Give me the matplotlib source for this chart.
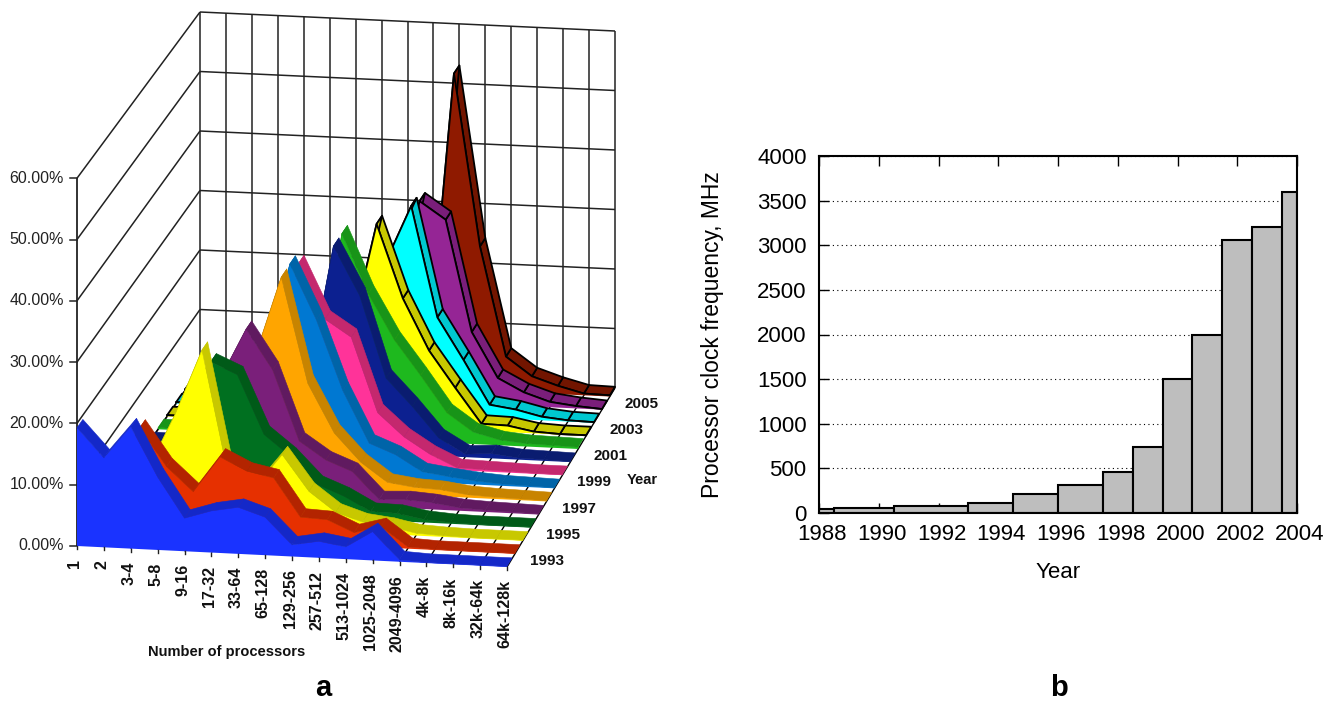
import matplotlib
matplotlib.use("Agg")
import matplotlib.pyplot as plt
import matplotlib.transforms as mtrans

plt.rcParams['font.family'] = ['Liberation Sans', 'DejaVu Sans']

# Panel a: share of systems (%) per processor class, one list per year
CATEGORIES = ["1", "2", "3-4", "5-8", "9-16", "17-32", "33-64", "65-128", "129-256",
              "257-512", "513-1024", "1025-2048", "2049-4096", "4k-8k", "8k-16k",
              "32k-64k", "64k-128k"]
YEARS = ["1993", "1994", "1995", "1996", "1997", "1998", "1999", "2000", "2001",
         "2002", "2003", "2004", "2005", "2006"]
Y1993 = [19.3, 14.6, 19.9, 11.9, 5.4, 6.8, 7.6, 6.2, 1.9, 2.7, 2.0, 4.7, 0.3, 0.1, 0.1, 0.1, 0.1]
Y1994 = [12.0, 10.0, 17.6, 11.5, 7.6, 13.5, 11.4, 10.5, 4.3, 4.1, 2.2, 3.4, 0.3, 0.1, 0.1, 0.1, 0.1]
Y1995 = [3.0, 5.0, 9.0, 18.0, 28.7, 8.0, 6.8, 12.2, 6.4, 3.2, 1.8, 1.3, 0.4, 0.2, 0.1, 0.1, 0.1]
Y1996 = [1.0, 3.0, 6.0, 12.0, 24.7, 22.8, 13.2, 9.8, 5.4, 3.7, 1.4, 1.3, 0.5, 0.2, 0.1, 0.1, 0.1]
Y1997 = [0.5, 1.0, 3.0, 8.0, 19.6, 28.2, 21.7, 10.2, 7.3, 5.6, 1.2, 1.4, 1.1, 0.5, 0.3, 0.2, 0.1]
Y1998 = [0.3, 0.5, 2.0, 6.0, 15.0, 21.5, 34.9, 17.6, 9.6, 5.0, 1.9, 1.3, 1.1, 0.5, 0.3, 0.2, 0.1]
Y1999 = [0.2, 0.3, 1.0, 4.0, 10.0, 18.0, 35.0, 26.0, 14.5, 6.0, 4.3, 1.7, 1.1, 0.6, 0.3, 0.2, 0.1]
Y2000 = [0.2, 0.3, 0.5, 2.0, 6.0, 14.0, 33.0, 24.0, 21.2, 8.9, 5.1, 2.4, 0.4, 0.3, 0.2, 0.1, 0.1]
Y2001 = [0.3, 0.2, 0.3, 1.0, 3.0, 6.0, 10.7, 34.0, 26.0, 12.5, 8.0, 3.0, 0.5, 0.8, 0.3, 0.2, 0.1]
Y2002 = [0.3, 0.2, 0.3, 0.5, 1.0, 3.0, 8.0, 34.0, 24.2, 16.7, 11.0, 5.0, 2.0, 0.9, 0.5, 0.4, 0.3]
Y2003 = [0.2, 0.2, 0.2, 0.3, 0.5, 1.0, 3.0, 15.0, 33.7, 21.5, 13.0, 7.0, 1.2, 1.1, 0.3, 0.1, 0.1]
Y2004 = [0.2, 0.2, 0.2, 0.2, 0.3, 0.5, 2.0, 10.0, 25.0, 34.8, 16.4, 9.5, 2.2, 1.6, 0.6, 0.2, 0.1]
Y2005 = [0.2, 0.2, 0.2, 0.2, 0.2, 0.3, 1.0, 4.0, 15.0, 33.5, 30.6, 12.0, 4.5, 2.3, 0.9, 0.4, 0.1]
Y2006 = [0.1, 0.1, 0.1, 0.1, 0.2, 0.2, 0.5, 1.0, 2.0, 5.0, 53.0, 24.2, 5.9, 2.8, 1.4, 0.3, 0.2]
SERIES = [Y1993, Y1994, Y1995, Y1996, Y1997, Y1998, Y1999, Y2000, Y2001, Y2002, Y2003, Y2004,
          Y2005, Y2006]
FACE_COLORS = ["#1a33ff", "#e63000", "#ffff00", "#007020", "#7a1f7a", "#ffa500", "#0078d2",
               "#ff3399", "#0c2090", "#1eb91e", "#ffff00", "#00ffff", "#952595", "#8f1a00"]
BAND_COLORS = ["#1428c8", "#b32400", "#c8c800", "#005a18", "#601a60", "#c88400", "#0064a8",
               "#c4286e", "#0a1c70", "#189418", "#c8c800", "#00c8d0", "#7a1e7a", "#721500"]
Z_TICKS = [0, 10, 20, 30, 40, 50, 60]

# Panel b: clock frequency as a step histogram
BAR_EDGES = [1988, 1988.5, 1990.5, 1993, 1994.5, 1996, 1997.5, 1998.5, 1999.5, 2000.5, 2001.5,
             2002.5, 2003.5, 2004]
BAR_VALUES = [40, 55, 75, 110, 210, 310, 455, 740, 1500, 2000, 3060, 3200, 3600]

# Floor corners of the 3D box, in picture coordinates
FRONT_LEFT, FRONT_RIGHT = (77, 546), (507, 567)
BACK_LEFT, BACK_RIGHT = (200, 369), (615, 388)
N_CAT = len(CATEGORIES) - 1
BAND_DEPTH = 0.65
DEPTH = len(YEARS) - 1 + BAND_DEPTH


def project(i, j, z):
    # category index, year index, percent -> picture x, y
    u = i / N_CAT
    v = j / DEPTH
    xf = FRONT_LEFT[0] + u * (FRONT_RIGHT[0] - FRONT_LEFT[0])
    yf = FRONT_LEFT[1] + u * (FRONT_RIGHT[1] - FRONT_LEFT[1])
    xb = BACK_LEFT[0] + u * (BACK_RIGHT[0] - BACK_LEFT[0])
    yb = BACK_LEFT[1] + u * (BACK_RIGHT[1] - BACK_LEFT[1])
    scale = 6.13 + v * (5.95 - 6.13)
    return xf + v * (xb - xf), yf + v * (yb - yf) - z * scale


def line3d(ax, p, q, color="#222222", lw=1.1, zorder=1):
    a, b = project(*p), project(*q)
    ax.plot([a[0], b[0]], [a[1], b[1]], color=color, lw=lw, zorder=zorder, solid_capstyle="butt")


fig = plt.figure(figsize=(13.36, 7.03), dpi=100)

# ---- panel a ----
ax = fig.add_axes([0, 0, 1, 1])
ax.set_xlim(0, 1336)
ax.set_ylim(703, 0)
ax.axis("off")

for z in Z_TICKS:
    line3d(ax, (0, 0, z), (0, DEPTH, z))
    line3d(ax, (0, DEPTH, z), (N_CAT, DEPTH, z))
    x, y = project(0, 0, z)
    ax.plot([x - 7, x], [y, y], color="#222222", lw=1.1)
    ax.text(x - 13, y, "%.2f%%" % z, ha="right", va="center", fontsize=11.5, color="#222222")
line3d(ax, (0, 0, 0), (0, 0, 60), lw=1.3)
for i in range(N_CAT + 1):
    line3d(ax, (i, DEPTH, 0), (i, DEPTH, 60))
    line3d(ax, (i, 0, 0), (i, DEPTH, 0), color="black", lw=1.0)

z = 2
for j in range(len(YEARS) - 1, -1, -1):
    values = SERIES[j]
    outlined = j >= 10
    edge = "black" if outlined else BAND_COLORS[j]
    lw = 1.3 if outlined else 0.4
    for i in range(N_CAT - 1, -1, -1):
        corners = [project(i, j, values[i]), project(i + 1, j, values[i + 1]),
                   project(i + 1, j + BAND_DEPTH, values[i + 1]),
                   project(i, j + BAND_DEPTH, values[i])]
        ax.fill(*zip(*corners), facecolor=BAND_COLORS[j], edgecolor=edge, lw=lw, zorder=z,
                joinstyle="round")
        z += 1
    top = [project(i, j, values[i]) for i in range(N_CAT + 1)]
    face = [project(0, j, 0)] + top + [project(N_CAT, j, 0)]
    ax.fill(*zip(*face), facecolor=FACE_COLORS[j], edgecolor="none", zorder=z)
    ax.plot(*zip(*top), color=edge, lw=lw, zorder=z + 1)
    z += 2

for i, label in enumerate(CATEGORIES):
    x, y = project(i, 0, 0)
    ax.plot([x, x], [y, y + 3], color="#222222", lw=1.0, zorder=z)
    ax.text(x - 2, y + 13, label, rotation=90, ha="center", va="top", fontsize=11.5,
            fontweight="bold", color="#111111")

for j in range(0, len(YEARS) - 1, 2):
    x, y = project(N_CAT, j, 0)
    ax.text(x + 40, y - 6, YEARS[j], ha="center", va="center", fontsize=11,
            fontweight="bold", color="#111111")
ax.text(642, 480, "Year", ha="center", va="center", fontsize=10.5, fontweight="bold", color="#111111")
ax.text(227, 652, "Number of processors", ha="center", va="center", fontsize=10.5,
        fontweight="bold", color="#111111")
ax.text(323, 696, "a", ha="center", va="baseline", fontsize=21, fontweight="bold")
ax.text(1059, 696, "b", ha="center", va="baseline", fontsize=21, fontweight="bold")

# ---- panel b ----
bx = fig.add_axes([819 / 1336, (703 - 513) / 703, 478 / 1336, 357 / 703])
bx.bar(BAR_EDGES[:-1], BAR_VALUES, width=[b - a for a, b in zip(BAR_EDGES, BAR_EDGES[1:])],
       align="edge", facecolor="#bebebe", edgecolor="black", lw=1.5, zorder=2)
bx.set_xlim(1988, 2004)
bx.set_ylim(0, 4000)
bx.set_xticks(range(1988, 2005, 2))
bx.set_yticks(range(0, 4001, 500))
bx.set_axisbelow(True)
bx.yaxis.grid(True, linestyle=(0, (1, 3)), color="black", lw=0.8)
bx.tick_params(direction="in", length=7, width=1.0, top=True, right=False, labelsize=16)
bx.tick_params(axis="x", pad=8)
bx.tick_params(axis="y", pad=9)
for label in bx.get_xticklabels():
    label.set_transform(label.get_transform() + mtrans.ScaledTranslation(3 / 100, 0, fig.dpi_scale_trans))
for spine in bx.spines.values():
    spine.set_linewidth(1.5)
bx.set_xlabel("Year", fontsize=16)
bx.set_ylabel("Processor clock frequency, MHz", fontsize=16.5)
bx.xaxis.set_label_coords(0.5, (513 - 572) / 357, transform=bx.transAxes)
bx.xaxis.label.set_va("center")
bx.yaxis.set_label_coords((713 - 819) / 478, 0.5, transform=bx.transAxes)
bx.yaxis.label.set_va("center")

fig.savefig("out.png", dpi=100)
